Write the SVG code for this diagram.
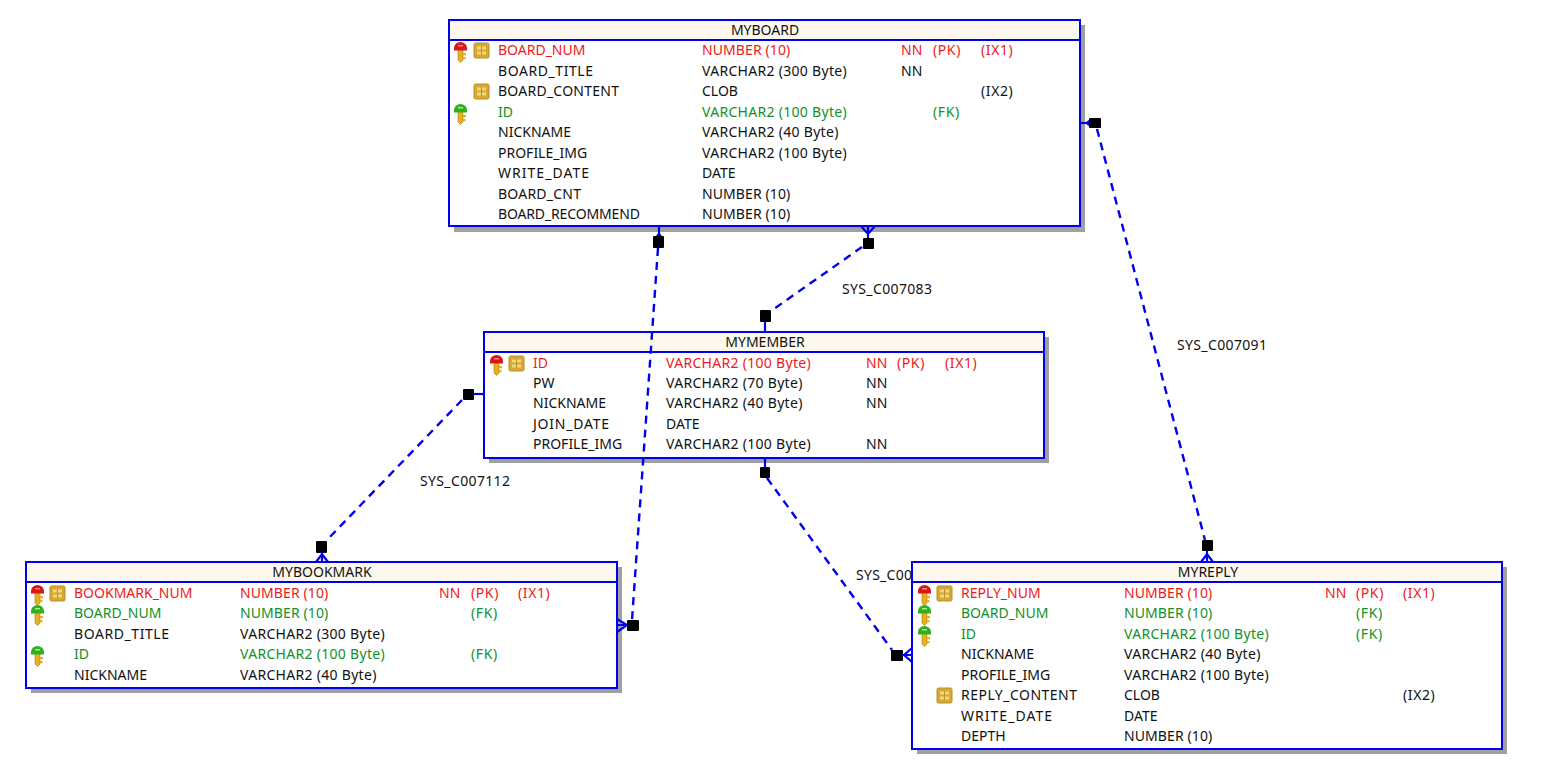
<svg xmlns="http://www.w3.org/2000/svg" width="1542" height="772" viewBox="0 0 1542 772">
<style>
text{font-family:"Noto Sans","DejaVu Sans",sans-serif;font-size:14px;fill:#111;dominant-baseline:central;transform:translateY(-.7px)}
.r{fill:#f01818}.g{fill:#12902a}.t{text-anchor:middle}
.v{letter-spacing:.3px}.n{letter-spacing:.1px}.p{letter-spacing:.6px}
.box{fill:#fff;stroke:#0000f0;stroke-width:2}
.hdr{fill:#fdf8ee}
.ln{stroke:#0000f0;stroke-width:2.200;fill:none}
.shadow{fill:#a0a0a0}
.dash{stroke:#0000f0;stroke-width:2.400;fill:none;stroke-dasharray:8 6}
.sq{fill:#000}
.wedge{fill:#0000f0}
</style>
<defs>
<g id="shank"><path d="M4 6h5v12l-2.500 2.500-2.500-2.500z" fill="#e8b020" stroke="#a87c10" stroke-width=".6"/><path d="M9 11h3v2.200H9zM9 15h2.500v2.200H9z" fill="#e8b020"/></g>
<g id="keyR"><use href="#shank"/><path d="M0 6a6.500 6 0 0 1 13 0v2.500H0z" fill="#d81818"/><rect x="4" y="3" width="5" height="1.500" fill="#ff8080"/></g>
<g id="keyG"><use href="#shank"/><path d="M0 6a6.500 6 0 0 1 13 0v2.500H0z" fill="#30b020"/><rect x="4" y="3" width="5" height="1.500" fill="#a0f080"/></g>
<g id="idx"><rect width="15" height="15" rx="1.500" fill="#d8a830" stroke="#b8902c"/><rect x="3" y="3.500" width="9" height="3" fill="#f2d680"/><rect x="3" y="8.500" width="9" height="3" fill="#f2d680"/><path d="M7.500 3v9" stroke="#b8902c"/></g>
</defs>

<g id="MYBOARD">
<rect class="shadow" x="454" y="25" width="631" height="207"/>
<rect class="box" x="449" y="20" width="631" height="206"/>
<rect class="hdr" x="450" y="21" width="629" height="19"/>
<path class="ln" d="M449 40H1080"/>
<text class="t" x="765" y="30">MYBOARD</text>
<use href="#keyR" x="454" y="42"/><use href="#idx" x="474" y="43"/>
<use href="#idx" x="474" y="84"/>
<use href="#keyG" x="454" y="104"/>
<text class="r" x="498" y="50">BOARD_NUM</text><text class="r n" x="702" y="50">NUMBER (10)</text><text class="r" x="901" y="50">NN</text><text class="r p" x="933" y="50">(PK)</text><text class="r p" x="981" y="50">(IX1)</text>
<text x="498" y="71" textLength="95">BOARD_TITLE</text><text class="v" x="702" y="71">VARCHAR2 (300 Byte)</text><text x="901" y="71">NN</text>
<text x="498" y="91" textLength="121">BOARD_CONTENT</text><text x="702" y="91">CLOB</text><text class="p" x="981" y="91">(IX2)</text>
<text class="g" x="498" y="112">ID</text><text class="g v" x="702" y="112">VARCHAR2 (100 Byte)</text><text class="g p" x="933" y="112">(FK)</text>
<text x="498" y="132">NICKNAME</text><text class="v" x="702" y="132">VARCHAR2 (40 Byte)</text>
<text x="498" y="153">PROFILE_IMG</text><text class="v" x="702" y="153">VARCHAR2 (100 Byte)</text>
<text x="498" y="173" textLength="91">WRITE_DATE</text><text x="702" y="173">DATE</text>
<text x="498" y="194" textLength="83">BOARD_CNT</text><text class="n" x="702" y="194">NUMBER (10)</text>
<text x="498" y="214" textLength="142">BOARD_RECOMMEND</text><text class="n" x="702" y="214">NUMBER (10)</text>
</g>

<g id="MYMEMBER">
<rect class="shadow" x="489" y="337" width="560" height="126"/>
<rect class="box" x="484" y="332" width="560" height="126"/>
<rect class="hdr" x="485" y="333" width="558" height="19"/>
<path class="ln" d="M484 352H1044"/>
<text class="t" x="765" y="342">MYMEMBER</text>
<use href="#keyR" x="490" y="355"/><use href="#idx" x="509" y="356"/>
<text class="r" x="533" y="363">ID</text><text class="r v" x="666" y="363">VARCHAR2 (100 Byte)</text><text class="r" x="866" y="363">NN</text><text class="r p" x="897" y="363">(PK)</text><text class="r p" x="945" y="363">(IX1)</text>
<text x="533" y="383">PW</text><text class="v" x="666" y="383">VARCHAR2 (70 Byte)</text><text x="866" y="383">NN</text>
<text x="533" y="403">NICKNAME</text><text class="v" x="666" y="403">VARCHAR2 (40 Byte)</text><text x="866" y="403">NN</text>
<text x="533" y="424" textLength="76">JOIN_DATE</text><text x="666" y="424">DATE</text>
<text x="533" y="444">PROFILE_IMG</text><text class="v" x="666" y="444">VARCHAR2 (100 Byte)</text><text x="866" y="444">NN</text>
</g>

<g id="MYBOOKMARK">
<rect class="shadow" x="31" y="567" width="591" height="126"/>
<rect class="box" x="26" y="562" width="591" height="126"/>
<rect class="hdr" x="27" y="563" width="589" height="19"/>
<path class="ln" d="M26 582H617"/>
<text class="t" x="322" y="572">MYBOOKMARK</text>
<use href="#keyR" x="31" y="585"/><use href="#idx" x="50" y="586"/>
<use href="#keyG" x="31" y="605"/>
<use href="#keyG" x="31" y="646"/>
<text class="r" x="74" y="593">BOOKMARK_NUM</text><text class="r n" x="240" y="593">NUMBER (10)</text><text class="r" x="439" y="593">NN</text><text class="r p" x="471" y="593">(PK)</text><text class="r p" x="518" y="593">(IX1)</text>
<text class="g" x="74" y="613">BOARD_NUM</text><text class="g n" x="240" y="613">NUMBER (10)</text><text class="g p" x="471" y="613">(FK)</text>
<text x="74" y="634" textLength="95">BOARD_TITLE</text><text class="v" x="240" y="634">VARCHAR2 (300 Byte)</text>
<text class="g" x="74" y="654">ID</text><text class="g v" x="240" y="654">VARCHAR2 (100 Byte)</text><text class="g p" x="471" y="654">(FK)</text>
<text x="74" y="675">NICKNAME</text><text class="v" x="240" y="675">VARCHAR2 (40 Byte)</text>
</g>

<g id="MYREPLY">
<rect class="shadow" x="917" y="567" width="590" height="187"/>
<rect class="box" x="912" y="562" width="590" height="187"/>
<rect class="hdr" x="913" y="563" width="588" height="19"/>
<path class="ln" d="M912 582H1502"/>
<text class="t" x="1208" y="572">MYREPLY</text>
<use href="#keyR" x="918" y="585"/><use href="#idx" x="937" y="586"/>
<use href="#keyG" x="918" y="605"/>
<use href="#keyG" x="918" y="626"/>
<use href="#idx" x="937" y="688"/>
<text class="r" x="961" y="593">REPLY_NUM</text><text class="r n" x="1124" y="593">NUMBER (10)</text><text class="r" x="1325" y="593">NN</text><text class="r p" x="1356" y="593">(PK)</text><text class="r p" x="1403" y="593">(IX1)</text>
<text class="g" x="961" y="613">BOARD_NUM</text><text class="g n" x="1124" y="613">NUMBER (10)</text><text class="g p" x="1356" y="613">(FK)</text>
<text class="g" x="961" y="634">ID</text><text class="g v" x="1124" y="634">VARCHAR2 (100 Byte)</text><text class="g p" x="1356" y="634">(FK)</text>
<text x="961" y="654">NICKNAME</text><text class="v" x="1124" y="654">VARCHAR2 (40 Byte)</text>
<text x="961" y="675">PROFILE_IMG</text><text class="v" x="1124" y="675">VARCHAR2 (100 Byte)</text>
<text x="961" y="695" textLength="116">REPLY_CONTENT</text><text x="1124" y="695">CLOB</text><text class="p" x="1403" y="695">(IX2)</text>
<text x="961" y="716" textLength="91">WRITE_DATE</text><text x="1124" y="716">DATE</text>
<text x="961" y="736">DEPTH</text><text class="n" x="1124" y="736">NUMBER (10)</text>
</g>

<g id="connectors">
<path class="dash" d="M658 248L632 620"/>
<path class="ln" d="M659 226V238"/>
<path class="wedge" d="M656 236L659 232L662 236z"/>
<rect class="sq" x="653" y="236" width="11" height="12" rx="1"/>
<path class="ln" d="M617 625H627M617 619L627 625L617 632"/>
<rect class="sq" x="627" y="620" width="12" height="11" rx="1"/>

<path class="dash" d="M862 247L771 311"/>
<path class="ln" d="M861 226L868 234L875 226M868 226V238"/>
<rect class="sq" x="863" y="238" width="11" height="11" rx="1"/>
<path class="ln" d="M765 320V332"/>
<rect class="sq" x="760" y="310" width="11" height="12" rx="1"/>

<path class="dash" d="M1097 129L1205 540"/>
<path class="ln" d="M1080 123H1090"/>
<path class="wedge" d="M1090 119L1085 123L1090 127z"/>
<rect class="sq" x="1089" y="118" width="12" height="10" rx="1"/>
<rect class="sq" x="1202" y="540" width="11" height="11" rx="1"/>
<path class="ln" d="M1207 551V562M1201 562L1207 554L1213 562"/>

<path class="dash" d="M462 400L326 541"/>
<path class="ln" d="M472 394H484"/>
<rect class="sq" x="463" y="389" width="11" height="11" rx="1"/>
<rect class="sq" x="316" y="541" width="11" height="12" rx="1"/>
<path class="ln" d="M322 552V562M316 562L322 554L328 562"/>

<path class="dash" d="M767 478L892 650"/>
<path class="ln" d="M765 458V468"/>
<rect class="sq" x="760" y="467" width="10" height="11" rx="1"/>
<rect class="sq" x="891" y="650" width="12" height="11" rx="1"/>
<path class="ln" d="M902 655H912M912 648L904 655L912 662"/>

<text x="842" y="289" textLength="90">SYS_C007083</text>
<text x="1177" y="345" textLength="90">SYS_C007091</text>
<text x="420" y="481" textLength="90">SYS_C007112</text>
<text x="856" y="575" textLength="56">SYS_C00</text>
</g>
</svg>
